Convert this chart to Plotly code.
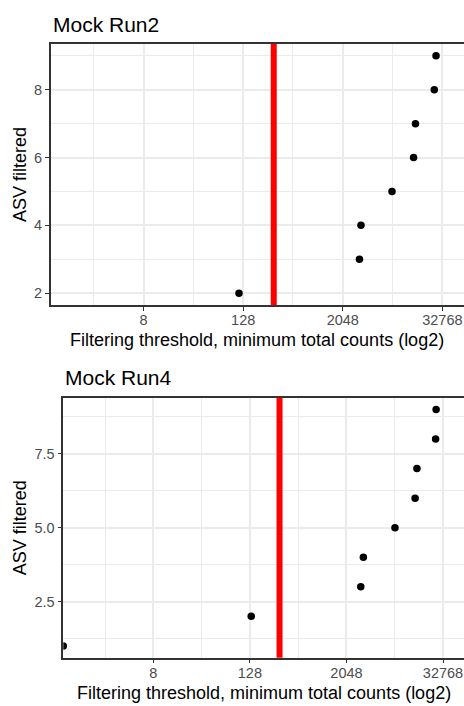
import math
import plotly.graph_objects as go

# ---------------- data ----------------
run2_counts = [114, 3260, 3400, 8070, 14700, 15500, 26200, 27500]
run2_asv = [2, 3, 4, 5, 6, 7, 8, 9]
run4_counts = [0, 133, 3090, 3330, 8250, 14700, 15500, 26500, 26900]
run4_asv = [1, 2, 3, 4, 5, 6, 7, 8, 9]
threshold = 300
x_tick_values = [8, 128, 2048, 32768]
x_tick_labels = ["8", "128", "2048", "32768"]
x_minor_values = [2, 32, 512, 8192]
run2_y_ticks = [2, 4, 6, 8]
run2_y_labels = ["2", "4", "6", "8"]
run2_y_minor = [3, 5, 7, 9]
run4_y_ticks = [2.5, 5.0, 7.5]
run4_y_labels = ["2.5", "5.0", "7.5"]
run4_y_minor = [1.25, 3.75, 6.25, 8.75]
panel_titles = ["Mock Run2", "Mock Run4"]
x_title = "Filtering threshold, minimum total counts (log2)"
y_title = "ASV filtered"

# ---------------- layout helpers ----------------
W, H = 464, 706
FONT = "Liberation Sans, Arial, sans-serif"
log2_range = [-0.73, 15.87]
x_range = [v * math.log10(2) for v in log2_range]
x_min_value = 10 ** x_range[0]


def fx(p):
    return p / W


def fy(p):
    return 1 - p / H


def squish(vals):
    # ggplot draws -Inf (log of 0) at the panel edge
    return [v if v > 0 else x_min_value for v in vals]


panels = [
    dict(counts=run2_counts, asv=run2_asv, yt=run2_y_ticks, yl=run2_y_labels,
         ym=run2_y_minor, yr=[1.65, 9.35], left=50.7, top=44, bottom=305,
         title=panel_titles[0]),
    dict(counts=run4_counts, asv=run4_asv, yt=run4_y_ticks, yl=run4_y_labels,
         ym=run4_y_minor, yr=[0.6, 9.4], left=63.3, top=397.7, bottom=657.7,
         title=panel_titles[1]),
]

fig = go.Figure()
annotations = []
shapes = []
for i, p in enumerate(panels):
    sfx = "" if i == 0 else str(i + 1)
    fig.add_trace(go.Scatter(
        x=squish(p["counts"]), y=p["asv"], mode="markers",
        marker=dict(color="black", size=7.5),
        xaxis="x" + sfx, yaxis="y" + sfx, showlegend=False, cliponaxis=True,
    ))
    xa = dict(
        type="log", range=x_range, domain=[fx(p["left"]), 1.0],
        anchor="y" + sfx,
        tickmode="array", tickvals=x_tick_values, ticktext=x_tick_labels,
        ticks="outside", ticklen=4, tickwidth=1.2, tickcolor="#333333",
        ticklabelstandoff=-3,
        tickfont=dict(family=FONT, size=14.5, color="#4D4D4D"),
        showgrid=True, gridcolor="#EBEBEB", gridwidth=2,
        minor=dict(tickmode="array", tickvals=x_minor_values, showgrid=True,
                   gridcolor="#EBEBEB", gridwidth=1, ticklen=0),
        showline=True, linecolor="#333333", linewidth=1.5, mirror=True,
        zeroline=False, fixedrange=True,
    )
    ya = dict(
        range=p["yr"], domain=[fy(p["bottom"]), fy(p["top"])],
        anchor="x" + sfx,
        tickmode="array", tickvals=p["yt"], ticktext=p["yl"],
        ticks="outside", ticklen=4, tickwidth=1.2, tickcolor="#333333",
        tickfont=dict(family=FONT, size=14.5, color="#4D4D4D"),
        showgrid=True, gridcolor="#EBEBEB", gridwidth=2,
        minor=dict(tickmode="array", tickvals=p["ym"], showgrid=True,
                   gridcolor="#EBEBEB", gridwidth=1, ticklen=0),
        showline=True, linecolor="#333333", linewidth=1.5, mirror=False,
        zeroline=False, fixedrange=True,
    )
    fig.update_layout(**{"xaxis" + sfx: xa, "yaxis" + sfx: ya})

    shapes.append(dict(
        type="line", xref="x" + sfx, yref="y" + sfx + " domain",
        x0=threshold, x1=threshold, y0=0, y1=1,
        line=dict(color="#FF0000", width=6), layer="above",
    ))

    # panel title
    annotations.append(dict(
        text=p["title"], x=fx(p["left"]), y=fy(p["top"] - 20),
        xref="paper", yref="paper", xanchor="left", yanchor="middle",
        showarrow=False, font=dict(family=FONT, size=21, color="black"),
    ))
    # x axis title
    annotations.append(dict(
        text=x_title, x=fx((p["left"] + 464) / 2), y=fy(p["bottom"] + 35),
        xref="paper", yref="paper", xanchor="center", yanchor="middle",
        showarrow=False, font=dict(family=FONT, size=18, color="black"),
    ))
    # y axis title
    annotations.append(dict(
        text=y_title, x=fx(19.5), y=fy((p["top"] + p["bottom"]) / 2),
        xref="paper", yref="paper", xanchor="center", yanchor="middle",
        textangle=-90,
        showarrow=False, font=dict(family=FONT, size=18, color="black"),
    ))

fig.update_layout(
    width=W, height=H,
    margin=dict(l=0, r=0, t=0, b=0),
    paper_bgcolor="white", plot_bgcolor="white",
    annotations=annotations, shapes=shapes,
    showlegend=False,
)

fig.write_html(
    "out.html",
    config={"displayModeBar": False},
    post_script="document.body.style.margin='0';document.body.style.overflow='hidden';",
)
